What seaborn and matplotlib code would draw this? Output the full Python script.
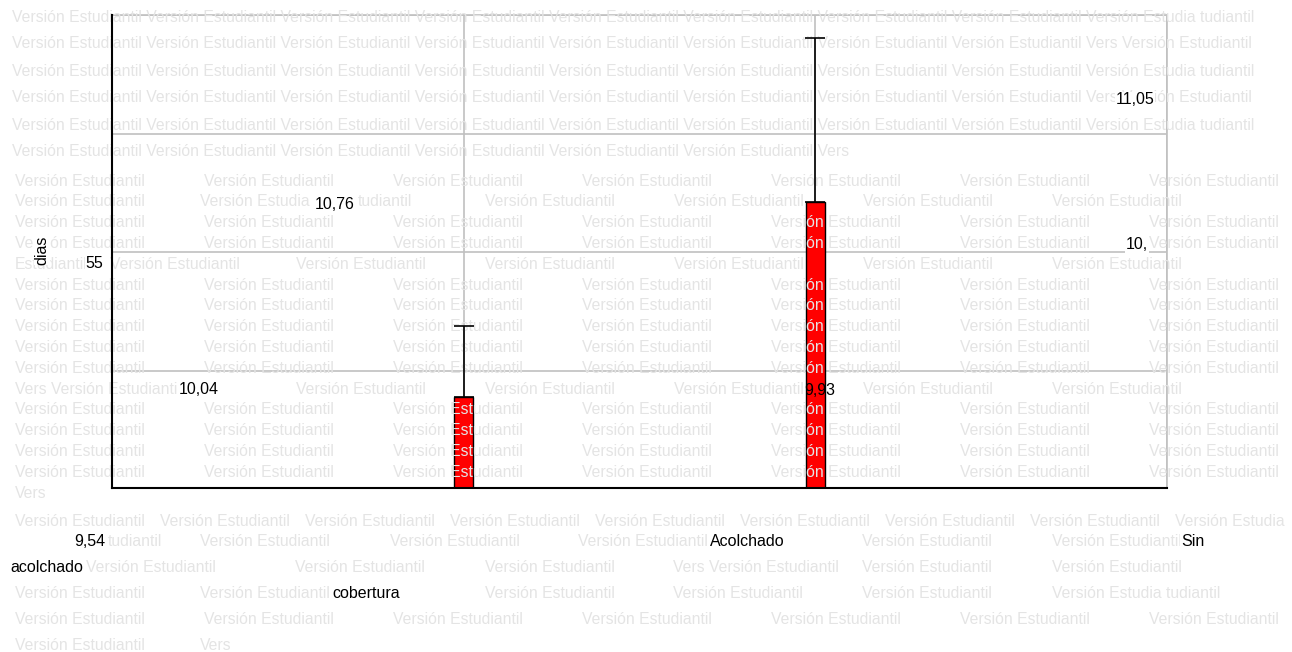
import numpy as np
import pandas as pd
import matplotlib
matplotlib.use("Agg")
import matplotlib.pyplot as plt
import seaborn as sns

# ---------------- data ----------------
categories = ["Sin acolchado", "Acolchado"]
values = [9.93, 10.76]
errors_up = [0.30, 0.70]
value_labels = ["9,93", "10,76"]
y_ticks = [9.54, 10.04, 10.55, 11.05, 11.56]
y_tick_labels = ["9,54", "10,04", "10,55", "11,05"]
x_label_parts = ["Sin", "acolchado", "Acolchado", "cobertura"]
y_axis_label = "dias"
watermark_word = "Versión Estudiantil"

# ---------------- figure ----------------
W, H = 1292, 652
sns.set_style("white")
plt.rcParams["font.family"] = ["Liberation Sans", "DejaVu Sans"]

fig = plt.figure(figsize=(W / 100, H / 100), dpi=100)
fig.patch.set_facecolor("white")
L, R, T, B = 112, 1167, 15, 488
ax = fig.add_axes([L / W, 1 - B / H, (R - L) / W, (B - T) / H])


def fx(px):
    return px / W


def fy(py):
    return 1 - py / H


df = pd.DataFrame({"cat": categories, "val": values})
sns.barplot(data=df, x="cat", y="val", order=categories, color="#ff0000",
            saturation=1, width=0.054, edgecolor="black", linewidth=1.0,
            errorbar=None, ax=ax, zorder=3)
pos = np.arange(len(categories))
ax.errorbar(pos, values, yerr=[np.zeros(len(values)), errors_up], fmt="none",
            ecolor="black", elinewidth=1.2, capsize=7, capthick=1.2, zorder=4)

ax.set_xlim(-1, len(categories))
ax.set_xticks(np.arange(-1, len(categories) + 1))
ax.set_xticklabels([])
ax.set_ylim(y_ticks[0], y_ticks[-1])
ax.set_yticks(y_ticks)
ax.set_yticklabels([])
ax.set_xlabel("")
ax.set_ylabel("")
ax.grid(True, color="#c0c0c0", linewidth=1.2, zorder=0.5)
ax.set_axisbelow(True)
for s in ["left", "bottom"]:
    ax.spines[s].set_color("black")
    ax.spines[s].set_linewidth(1.5)
    ax.spines[s].set_zorder(5)
for s in ["top", "right"]:
    ax.spines[s].set_color("#c0c0c0")
    ax.spines[s].set_linewidth(1.2)
ax.tick_params(axis="both", direction="out", length=6, width=1.2, color="black")

# ---------------- watermark (decoration) ----------------
wm = watermark_word
short = "Versión Estudia"
rows = []
top_ys = [17, 44, 71, 98, 125, 152]
for i, y in enumerate(top_ys):
    if i == len(top_ys) - 1:
        s = (wm + " ") * 6 + "Vers"
    elif i % 2 == 0:
        s = (wm + " ") * 8 + "Versión Estudia tudiantil"
    else:
        s = (wm + " ") * 8 + "Vers " + wm
    rows.append((y, [(12, s)]))
colA = [15 + 189 * k for k in range(7)]
colB = [107 + 189 * k for k in range(1, 6)]
mid_ys = [181 + 20.8 * k for k in range(15)]
for k, y in enumerate(mid_ys):
    if k == 1:
        items = [(15, wm), (200, "Versión Estudia"), (358, "tudiantil")] + [(x, wm) for x in colB[1:]]
    elif k == 4:
        items = [(15, "Estudiantil"), (110, wm)] + [(x, wm) for x in colB]
    elif k == 10:
        items = [(15, "Vers " + wm)] + [(x, wm) for x in colB]
    else:
        items = [(x, wm) for x in colA]
    rows.append((y, items))
rows.append((494, [(15, "Vers")]))
rows.append((521, [(15 + 145 * k, wm) for k in range(8)] + [(1175, short)]))
rows.append((541, [(108, "tudiantil")] + [(x, wm) for x in [200, 390, 578, 862, 1052]]))
rows.append((567, [(86, wm)] + [(x, wm) for x in [295, 485]] + [(673, "Vers " + wm), (862, wm), (1052, wm)]))
rows.append((593, [(15, wm), (200, wm), (485, wm), (673, wm), (862, wm), (1052, "Versión Estudia tudiantil")]))
rows.append((619, [(x, wm) for x in colA]))
rows.append((645, [(15, wm), (200, "Vers")]))
for y, items in rows:
    for x, s in items:
        ax.text(fx(x), fy(y), s, transform=fig.transFigure, ha="left", va="center",
                fontsize=11.3, color="#e4e4e4", clip_on=False, zorder=3.5)

# ---------------- chart texts ----------------
box = dict(facecolor="white", edgecolor="none", pad=0.5)
txt = dict(transform=fig.transFigure, fontsize=11.5, color="black", zorder=6,
           va="center", clip_on=False, bbox=box)
# value labels at the height of each value (shifted sideways as in reference)
label_x = [1.013, -0.366]
label_dy = [6, -2]
for xv, v, dy, lab in zip(label_x, values, label_dy, value_labels):
    ax.annotate(lab, xy=(xv, v), xytext=(0, dy), textcoords="offset pixels",
                ha="center", va="center", fontsize=11.5, color="black",
                zorder=6, annotation_clip=False)
# y tick labels, scattered as in reference
ax.text(fx(90), fy(541), y_tick_labels[0], ha="center", **txt)
ax.text(fx(199), fy(389), y_tick_labels[1], ha="center", **txt)
p1, p2 = y_tick_labels[2].split(",")
ax.text(fx(1126), fy(245), p1 + ",", ha="left", **txt)
ax.text(fx(103), fy(264), p2, ha="right", **txt)
ax.text(fx(1135), fy(100), y_tick_labels[3], ha="center", **txt)
# category labels
ax.text(fx(1181), fy(541), x_label_parts[0], ha="left", **txt)
ax.text(fx(10), fy(567), x_label_parts[1], ha="left", **txt)
ax.text(fx(710), fy(541), x_label_parts[2], ha="left", **txt)
ax.text(fx(332), fy(593), x_label_parts[3], ha="left", **txt)
# axis title
ax.text(fx(42), fy(250), y_axis_label, ha="center", rotation=90, **txt)

fig.savefig("out.png", dpi=100, facecolor="white")
